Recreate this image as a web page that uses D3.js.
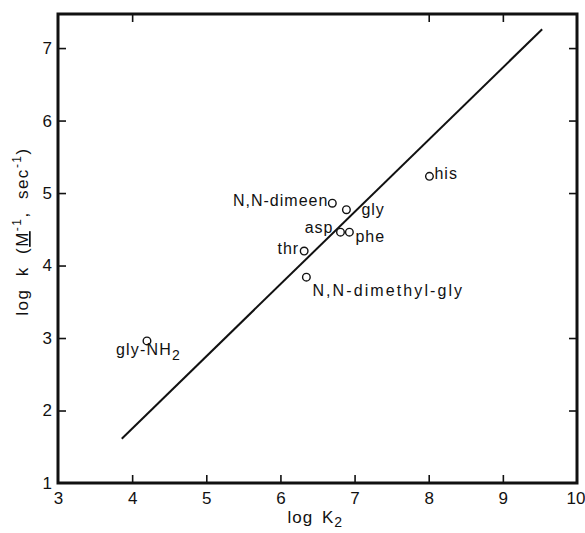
<!DOCTYPE html>
<html>
<head>
<meta charset="utf-8">
<script src="https://cdn.jsdelivr.net/npm/d3@7"></script>
<style>
  body { margin: 0; background: #fff; }
  svg { display: block; }
  text { font-family: "Liberation Sans", "DejaVu Sans", sans-serif; fill: #111; }
</style>
</head>
<body>
<div id="chart"></div>
<script>
// data
var compounds = ["his", "N,N-dimeen", "gly", "asp", "phe", "thr", "N,N-dimethyl-gly", "gly-NH2"];
var logK2 = [8.01, 6.70, 6.89, 6.81, 6.93, 6.32, 6.35, 4.20];
var logk  = [5.23, 4.86, 4.77, 4.46, 4.46, 4.20, 3.84, 2.96];

// fitted line end points
var lineK2 = [3.86, 9.53];
var lineK  = [1.61, 7.26];

var xTicks = [3, 4, 5, 6, 7, 8, 9, 10];
var yTicks = [1, 2, 3, 4, 5, 6, 7];
var topTicks = [4, 8, 9];
var rightTicks = [2, 3, 5, 6, 7];

// label placement (anchor, dx, dy, letter spacing) next to each point
var labelPlace = [
    ["start", 5, 3, 1],
    ["end", -4, 3, 1],
    ["start", 15, 5, 1],
    ["end", -7, 1, 1],
    ["start", 6, 10, 1],
    ["end", -5, 3, 1],
    ["start", 6, 19, 2.1],
    ["start", -31, 14, 1.2]
];

var W = 585, H = 533;
var margin = {top: 14, right: 8, bottom: 50, left: 58},
    width = W - margin.left - margin.right,
    height = H - margin.top - margin.bottom;

var svg = d3.select("#chart").append("svg")
    .attr("width", W)
    .attr("height", H);

var g = svg.append("g")
    .attr("transform", "translate(" + margin.left + "," + margin.top + ")");

var x = d3.scaleLinear().domain([3, 10]).range([0, width]);
var y = d3.scaleLinear().domain([1, 7.47]).range([height, 0]);

var tickLen = 8;
var fmt = d3.format("d");

// bottom axis
var bx = g.append("g")
    .attr("transform", "translate(0," + height + ")")
    .call(d3.axisBottom(x).tickValues(xTicks).tickFormat(fmt).tickSizeInner(-tickLen).tickSizeOuter(0).tickPadding(9));
bx.selectAll(".tick line").filter(function(d){ return d == 3 || d == 10; }).remove();
bx.selectAll(".tick text").filter(function(d){ return d == 10; })
    .attr("text-anchor", "end")
    .attr("x", 8);

// left axis
var ly = g.append("g")
    .call(d3.axisLeft(y).tickValues(yTicks).tickFormat(fmt).tickSizeInner(-tickLen).tickSizeOuter(0).tickPadding(6));
ly.selectAll(".tick line").filter(function(d){ return d == 1; }).remove();

// top and right: ticks only
g.append("g")
    .call(d3.axisTop(x).tickValues(topTicks).tickSizeInner(-tickLen).tickSizeOuter(0).tickFormat(""));
g.append("g")
    .attr("transform", "translate(" + width + ",0)")
    .call(d3.axisRight(y).tickValues(rightTicks).tickSizeInner(-tickLen).tickSizeOuter(0).tickFormat(""));

g.selectAll(".domain").remove();
g.selectAll(".tick line").attr("stroke", "#111").attr("stroke-width", 1.6);
g.selectAll(".tick text")
    .style("font-size", "17px")
    .style("font-family", "'Liberation Sans', sans-serif")
    .attr("fill", "#111");

// frame
g.append("rect")
    .attr("x", 0).attr("y", 0)
    .attr("width", width).attr("height", height)
    .attr("fill", "none")
    .attr("stroke", "#111")
    .attr("stroke-width", 3);

// fitted line
g.append("line")
    .attr("x1", x(lineK2[0])).attr("y1", y(lineK[0]))
    .attr("x2", x(lineK2[1])).attr("y2", y(lineK[1]))
    .attr("stroke", "#111")
    .attr("stroke-width", 2);

// points
var pts = compounds.map(function(c, i){ return {name: c, x: logK2[i], y: logk[i], place: labelPlace[i]}; });

g.selectAll(".pt")
    .data(pts)
  .enter().append("circle")
    .attr("class", "pt")
    .attr("cx", function(d){ return x(d.x); })
    .attr("cy", function(d){ return y(d.y); })
    .attr("r", 3.8)
    .attr("fill", "#fff")
    .attr("stroke", "#111")
    .attr("stroke-width", 1.4);

var labels = g.selectAll(".lbl")
    .data(pts)
  .enter().append("text")
    .attr("class", "lbl")
    .attr("x", function(d){ return x(d.x) + d.place[1]; })
    .attr("y", function(d){ return y(d.y) + d.place[2]; })
    .attr("text-anchor", function(d){ return d.place[0]; })
    .style("letter-spacing", function(d){ return d.place[3] + "px"; })
    .style("font-size", "16px");

labels.each(function(d){
    var t = d3.select(this);
    if (d.name == "gly-NH2") {
        t.append("tspan").text("gly-NH");
        t.append("tspan").attr("dy", 5).style("font-size", "14px").text("2");
    } else {
        t.text(d.name);
    }
});

// axis titles
var xt = svg.append("text")
    .attr("x", margin.left + x(6.47))
    .attr("y", 523)
    .attr("text-anchor", "middle")
    .style("letter-spacing", "1px")
    .style("word-spacing", "3px")
    .style("font-size", "17px");
xt.append("tspan").text("log K");
xt.append("tspan").attr("dy", 4).style("font-size", "14px").text("2");

var yt = svg.append("text")
    .attr("transform", "translate(28," + (margin.top + y(4.47)) + ") rotate(-90)")
    .attr("text-anchor", "middle")
    .style("letter-spacing", "1.5px")
    .style("word-spacing", "6px")
    .style("font-size", "17px");
yt.append("tspan").text("log k (");
yt.append("tspan").style("text-decoration", "underline").text("M");
yt.append("tspan").attr("dy", -7).style("font-size", "12px").text("-1");
yt.append("tspan").attr("dy", 7).text(", sec");
yt.append("tspan").attr("dy", -7).style("font-size", "12px").text("-1");
yt.append("tspan").attr("dy", 7).text(")");
</script>
</body>
</html>
